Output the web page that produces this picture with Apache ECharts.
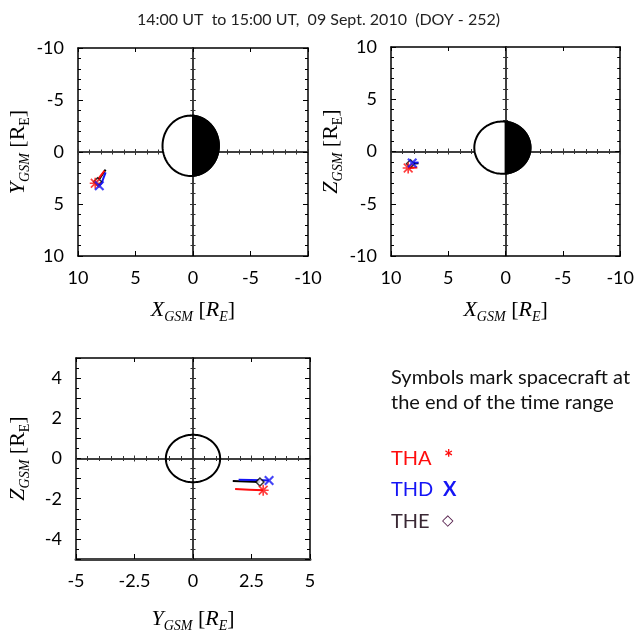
<!DOCTYPE html>
<html>
<head>
<meta charset="utf-8">
<script src="https://cdn.jsdelivr.net/npm/echarts@6/dist/echarts.min.js"></script>
<style>html,body{margin:0;padding:0;background:#fff}#c{width:637px;height:634px}</style>
</head>
<body>
<div id="c"></div>
<script>
// ---- Data (GSM coordinates, Earth radii) ----
const THA_X = [7.7, 8.1, 8.5];
const THA_Y = [1.8, 2.4, 3.0];
const THA_Z = [-1.52, -1.55, -1.58];
const THD_X = [7.6, 7.95, 8.15];
const THD_Y = [1.95, 3.0, 3.25];
const THD_Z = [-1.06, -1.08, -1.1];
const THE_X = [7.6, 8.3];
const THE_Y = [1.7, 2.86];
const THE_Z = [-1.12, -1.17];
// Earth drawn in each panel: [centre h, centre v, radius h, radius v]
const EARTH_XY = [0.2, -0.6, 2.45, 2.9];
const EARTH_XZ = [0.28, 0.37, 2.45, 2.5];
const EARTH_YZ = [0, 0, 1.16, 1.18];
const TICKS_TOP = [-10, -5, 0, 5, 10];
const TICKS_BOTTOM_X = [-5, -2.5, 0, 2.5, 5];
const TICKS_BOTTOM_Y = [-4, -2, 0, 2, 4];
const TITLE = '14:00 UT  to 15:00 UT,  09 Sept. 2010  (DOY - 252)';

const RED = '#ff0d0d', BLUE = '#1515f5', BLACK = '#000';
const LAB = {fontFamily: 'Lato', fontSize: 18, color: '#000'};

const xAxes = [], yAxes = [];
function nameRich() {
  return {
    i: {fontFamily: 'Liberation Serif', fontStyle: 'italic', fontSize: 22, lineHeight: 28, color: '#000'},
    r: {fontFamily: 'Liberation Serif', fontSize: 22, lineHeight: 28, color: '#000'},
    s: {fontFamily: 'Liberation Serif', fontStyle: 'italic', fontSize: 14, lineHeight: 14, verticalAlign: 'bottom', color: '#000'},
    rs: {fontFamily: 'Liberation Serif', fontSize: 14, lineHeight: 14, verticalAlign: 'bottom', color: '#000'}
  };
}
function addPanel(g, xc, yc) {
  const xi = xAxes.length, yi = yAxes.length;
  const baseX = {type: 'value', gridIndex: g, min: xc.min, max: xc.max, interval: xc.interval, inverse: xc.inverse,
    splitLine: {show: false}};
  const baseY = {type: 'value', gridIndex: g, min: yc.min, max: yc.max, interval: yc.interval, inverse: yc.inverse,
    splitLine: {show: false}};
  xAxes.push(Object.assign({}, baseX, {position: 'bottom',
    axisLine: {onZero: false, lineStyle: {color: xc.edgeColor || '#000', width: xc.edgeWidth || 1.5}},
    axisTick: {show: true, inside: true, length: 5, lineStyle: {color: '#000'}},
    axisLabel: {show: true, margin: 13, fontFamily: LAB.fontFamily, fontSize: LAB.fontSize, color: LAB.color,
      showMinLabel: true, showMaxLabel: true, formatter: v => xc.labels.indexOf(v) >= 0 ? String(v) : ''},
    name: xc.name, nameLocation: 'middle', nameGap: xc.nameGap, nameTextStyle: {rich: nameRich()}}));
  xAxes.push(Object.assign({}, baseX, {position: 'top',
    axisLine: {onZero: false, lineStyle: {color: '#000', width: 1.5}},
    axisTick: {show: true, inside: true, length: 4, lineStyle: {color: '#000'}},
    axisLabel: {show: false}}));
  [true, false].forEach(ins => {
    xAxes.push(Object.assign({}, baseX, {position: 'bottom',
      axisLine: {onZero: true, onZeroAxisIndex: yi, lineStyle: {color: '#333', width: 1.5}},
      axisTick: {show: true, inside: ins, length: 3, lineStyle: {color: '#333'}},
      minorTick: {show: true, splitNumber: xc.minorSplit, length: 2.5, lineStyle: {color: '#333'}},
      axisLabel: {show: false}}));
  });
  yAxes.push(Object.assign({}, baseY, {position: 'left',
    axisLine: {onZero: false, lineStyle: {color: '#000', width: 1.5}},
    axisTick: {show: true, inside: true, length: 5, lineStyle: {color: '#000'}},
    minorTick: {show: true, splitNumber: yc.minorSplit, length: 3, lineStyle: {color: '#000'}},
    axisLabel: {show: true, margin: 14, fontFamily: LAB.fontFamily, fontSize: LAB.fontSize, color: LAB.color,
      showMinLabel: true, showMaxLabel: true, formatter: v => yc.labels.indexOf(v) >= 0 ? String(v) : ''},
    name: yc.name, nameLocation: 'middle', nameGap: yc.nameGap, nameTextStyle: {rich: nameRich()}}));
  yAxes.push(Object.assign({}, baseY, {position: 'right',
    axisLine: {onZero: false, lineStyle: {color: '#000', width: 1.5}},
    axisTick: {show: true, inside: true, length: 5, lineStyle: {color: '#000'}},
    minorTick: {show: true, splitNumber: yc.minorSplit, length: 3, lineStyle: {color: '#000'}},
    axisLabel: {show: false}}));
  [true, false].forEach(ins => {
    yAxes.push(Object.assign({}, baseY, {position: 'left',
      axisLine: {onZero: true, onZeroAxisIndex: xi, lineStyle: {color: '#333', width: 1.5}},
      axisTick: {show: true, inside: ins, length: 3, lineStyle: {color: '#333'}},
      minorTick: {show: true, splitNumber: yc.minorSplit, length: 2.5, lineStyle: {color: '#333'}},
      axisLabel: {show: false}}));
  });
  return {xi, yi};
}

const P0 = addPanel(0,
  {min: -10, max: 10, interval: 5, inverse: true, minorSplit: 5, labels: TICKS_TOP,
   name: '{i|X}{s|GSM}{r| [}{i|R}{s|E}{r|]}', nameGap: 40},
  {min: -10, max: 10, interval: 5, inverse: true, minorSplit: 5, labels: TICKS_TOP,
   name: '{i|Y}{s|GSM}{r| [R}{rs|E}{r|]}', nameGap: 42});
const P1 = addPanel(1,
  {min: -10, max: 10, interval: 5, inverse: true, minorSplit: 5, labels: TICKS_TOP,
   name: '{i|X}{s|GSM}{r| [}{i|R}{s|E}{r|]}', nameGap: 40},
  {min: -10, max: 10, interval: 5, inverse: false, minorSplit: 5, labels: TICKS_TOP,
   name: '{i|Z}{s|GSM}{r| [R}{rs|E}{r|]}', nameGap: 31});
const P2 = addPanel(2,
  {min: -5, max: 5, interval: 2.5, inverse: false, minorSplit: 5, labels: TICKS_BOTTOM_X,
   name: '{i|Y}{s|GSM}{r| [}{i|R}{s|E}{r|]}', nameGap: 46, edgeColor: '#444', edgeWidth: 3},
  {min: -5, max: 5, interval: 1, inverse: false, minorSplit: 2, labels: TICKS_BOTTOM_Y,
   name: '{i|Z}{s|GSM}{r| [R}{rs|E}{r|]}', nameGap: 44});

function zip(a, b) { return a.map((v, i) => [v, b[i]]); }
function last(a) { return a[a.length - 1]; }

const ASTER = 'path://M8.5,0h3v20h-3z M0,8.5h20v3h-20z M1,3.1L3.1,1L19,16.9L16.9,19z M16.9,1L19,3.1L3.1,19L1,16.9z';
const XMARK = 'path://M0,3L3,0L10,7L17,0L20,3L13,10L20,17L17,20L10,13L3,20L0,17L7,10z';

function earthSeries(p, earth, filled) {
  return {
    type: 'custom', xAxisIndex: p.xi, yAxisIndex: p.yi, data: [earth], clip: true, z: 3,
    renderItem: function (params, api) {
      const cx = api.value(0), cy = api.value(1), rx = api.value(2), ry = api.value(3);
      const N = 120, full = [];
      for (let i = 0; i < N; i++) {
        const t = 2 * Math.PI * i / N;
        full.push(api.coord([cx + rx * Math.cos(t), cy + ry * Math.sin(t)]));
      }
      const children = [{type: 'polygon', shape: {points: full},
        style: {fill: filled ? '#fff' : 'none', stroke: '#000', lineWidth: 2}}];
      if (filled) {
        const t0 = Math.acos(Math.max(-1, Math.min(1, -cx / rx)));
        const half = [];
        for (let i = 0; i <= N; i++) {
          const t = t0 + (2 * Math.PI - 2 * t0) * i / N;
          half.push(api.coord([cx + rx * Math.cos(t), cy + ry * Math.sin(t)]));
        }
        children.push({type: 'polygon', shape: {points: half}, style: {fill: '#000', stroke: '#000', lineWidth: 2}});
      }
      return {type: 'group', children: children};
    }
  };
}

function craftSeries(p, hA, vA, hD, vD, hE, vE) {
  const line = (d, c) => ({type: 'line', xAxisIndex: p.xi, yAxisIndex: p.yi, data: d, showSymbol: false,
    symbol: 'none', lineStyle: {color: c, width: 2}, z: 4, animation: false, silent: true});
  const mark = (d, sym, size, c, extra) => ({type: 'scatter', xAxisIndex: p.xi, yAxisIndex: p.yi, data: [d],
    symbol: sym, symbolSize: size, itemStyle: Object.assign({color: c}, extra || {}), z: 5, animation: false, silent: true});
  return [
    line(zip(hE, vE), BLACK),
    line(zip(hA, vA), RED),
    line(zip(hD, vD), BLUE),
    mark([last(hE), last(vE)], 'diamond', 8, '#fff', {borderColor: '#000', borderWidth: 1.5}),
    mark([last(hA), last(vA)], ASTER, 11, RED),
    mark([last(hD), last(vD)], XMARK, 10, BLUE)
  ];
}

const series = [].concat(
  [earthSeries(P0, EARTH_XY, true)],
  craftSeries(P0, THA_X, THA_Y, THD_X, THD_Y, THE_X, THE_Y),
  [earthSeries(P1, EARTH_XZ, true)],
  craftSeries(P1, THA_X, THA_Z, THD_X, THD_Z, THE_X, THE_Z),
  [earthSeries(P2, EARTH_YZ, false)],
  craftSeries(P2, THA_Y, THA_Z, THD_Y, THD_Z, THE_Y, THE_Z)
);

const chart = echarts.init(document.getElementById('c'), null, {renderer: 'canvas'});
chart.setOption({
  backgroundColor: '#fff',
  animation: false,
  title: {text: TITLE, left: 'center', top: 7, textStyle: {fontFamily: 'Lato', fontSize: 16, fontWeight: 'normal', color: '#222'}},
  grid: [
    {left: 78, top: 48, width: 230, height: 208},
    {left: 391, top: 47, width: 230, height: 209},
    {left: 76, top: 358, width: 234, height: 205}
  ],
  xAxis: xAxes,
  yAxis: yAxes,
  series: series,
  graphic: [
    {type: 'text', left: 391, top: 368, style: {text: 'Symbols mark spacecraft at', font: '20px Lato', fill: '#111'}},
    {type: 'text', left: 391, top: 393, style: {text: 'the end of the time range', font: '20px Lato', fill: '#111'}},
    {type: 'text', left: 391, top: 449, style: {text: 'THA', font: '20px Lato', fill: RED}},
    {type: 'text', left: 444, top: 448, style: {text: '*', font: 'bold 22px Lato', fill: RED}},
    {type: 'text', left: 391, top: 480, style: {text: 'THD', font: '20px Lato', fill: BLUE}},
    {type: 'text', left: 443, top: 480, style: {text: 'X', font: 'bold 20px Lato', fill: BLUE}},
    {type: 'text', left: 391, top: 512, style: {text: 'THE', font: '20px Lato', fill: '#3a2834'}},
    {type: 'text', left: 442, top: 514, style: {text: '◇', font: 'bold 15px DejaVu Sans', fill: '#4a1040'}}
  ]
});
</script>
</body>
</html>
